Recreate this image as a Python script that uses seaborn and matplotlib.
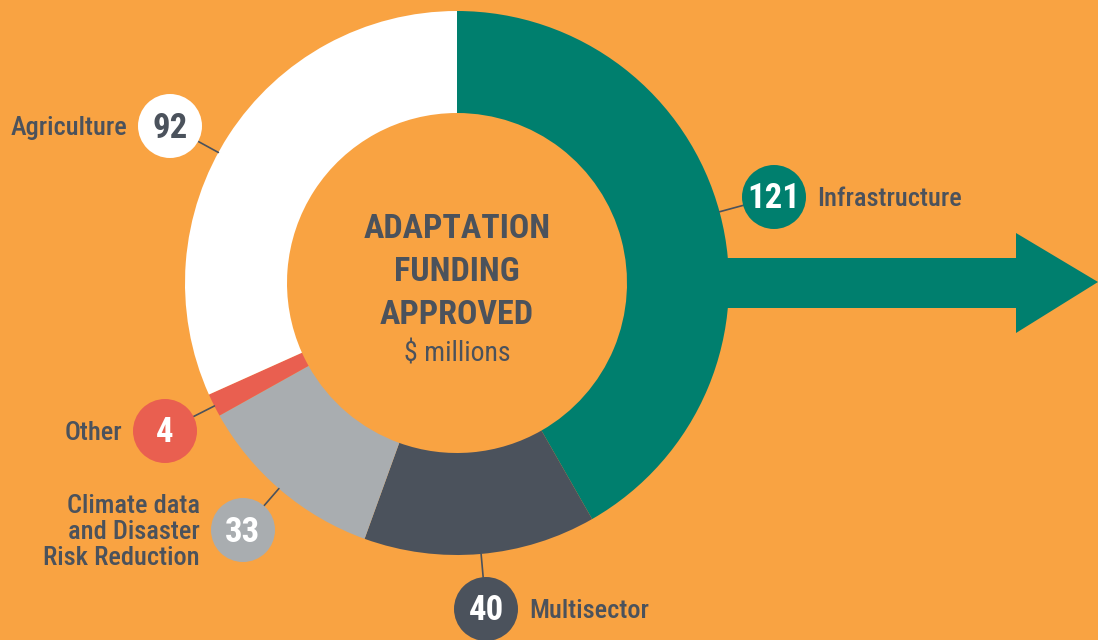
import numpy as np
import matplotlib.pyplot as plt
import seaborn as sns
from matplotlib.patches import Circle, Polygon

# Данные: финансирование адаптации, $ млн
categories = ['Infrastructure', 'Multisector', 'Climate data\nand Disaster\nRisk Reduction', 'Other', 'Agriculture']
values = [121, 40, 33, 4, 92]
colors = ['#007F6E', '#4B525C', '#A9ADB0', '#E95F50', '#FFFFFF']
num_colors = ['white', 'white', 'white', 'white', '#4B525C']

bg = '#F9A342'
txt = '#4B525C'

sns.set_style('white')
plt.rcParams['font.family'] = ['Roboto Condensed', 'DejaVu Sans']

W, H = 1098, 640
fig = plt.figure(figsize=(W / 100, H / 100), dpi=100, facecolor=bg)
ax = fig.add_axes([0, 0, 1, 1])
ax.set_facecolor(bg)

cx, cy = 457, H - 283
r_out, r_in = 272, 170

# стрелка от сектора инфраструктуры
ax.add_patch(Polygon([(700, H - 258), (1016, H - 258), (1016, H - 233), (1098, H - 282),
                      (1016, H - 333), (1016, H - 308), (700, H - 308)],
                     closed=True, color=colors[0], lw=0, zorder=1))

ax.pie(values, colors=colors, startangle=90, counterclock=False, radius=r_out,
       center=(cx, cy), wedgeprops=dict(width=r_out - r_in, linewidth=0), frame=False)

# подписи: позиция кружка (в пикселях), сторона текста
label_pos = [(774, 197, 'right'), (486, 609, 'right'), (243, 530, 'left'),
             (165, 431, 'left'), (170, 126, 'left')]
circ_r = 32

for i, (px, py, side) in enumerate(label_pos):
    y = H - py
    d = np.array([px - cx, y - cy], dtype=float)
    d /= np.hypot(*d)
    p_edge = (cx + d[0] * r_out, cy + d[1] * r_out)
    p_circ = (px - d[0] * circ_r, y - d[1] * circ_r)
    ax.plot([p_edge[0], p_circ[0]], [p_edge[1], p_circ[1]], color=txt, lw=1.2, zorder=3)
    ax.add_patch(Circle((px, y), circ_r, color=colors[i], lw=0, zorder=4))
    ax.text(px, y - 2, str(values[i]), color=num_colors[i], fontsize=25, fontweight='bold',
            ha='center', va='center', zorder=5)
    if side == 'right':
        ax.text(px + circ_r + 11, y - 2, categories[i], color=txt, fontsize=19, fontweight=500,
                ha='left', va='center')
    else:
        ax.text(px - circ_r - 11, y - 2, categories[i], color=txt, fontsize=19, fontweight=500,
                ha='right', va='center', multialignment='right', linespacing=1.08)

# центр
for s, yy in [('ADAPTATION', 229), ('FUNDING', 272), ('APPROVED', 315)]:
    ax.text(cx, H - yy, s, color=txt, fontsize=24.5, fontweight='bold', ha='center', va='center')
ax.text(cx, H - 354, '$ millions', color=txt, fontsize=20, ha='center', va='center')

ax.set_xlim(0, W)
ax.set_ylim(0, H)
ax.set_aspect('equal')
ax.axis('off')

plt.savefig('out.png', dpi=100, facecolor=bg)
